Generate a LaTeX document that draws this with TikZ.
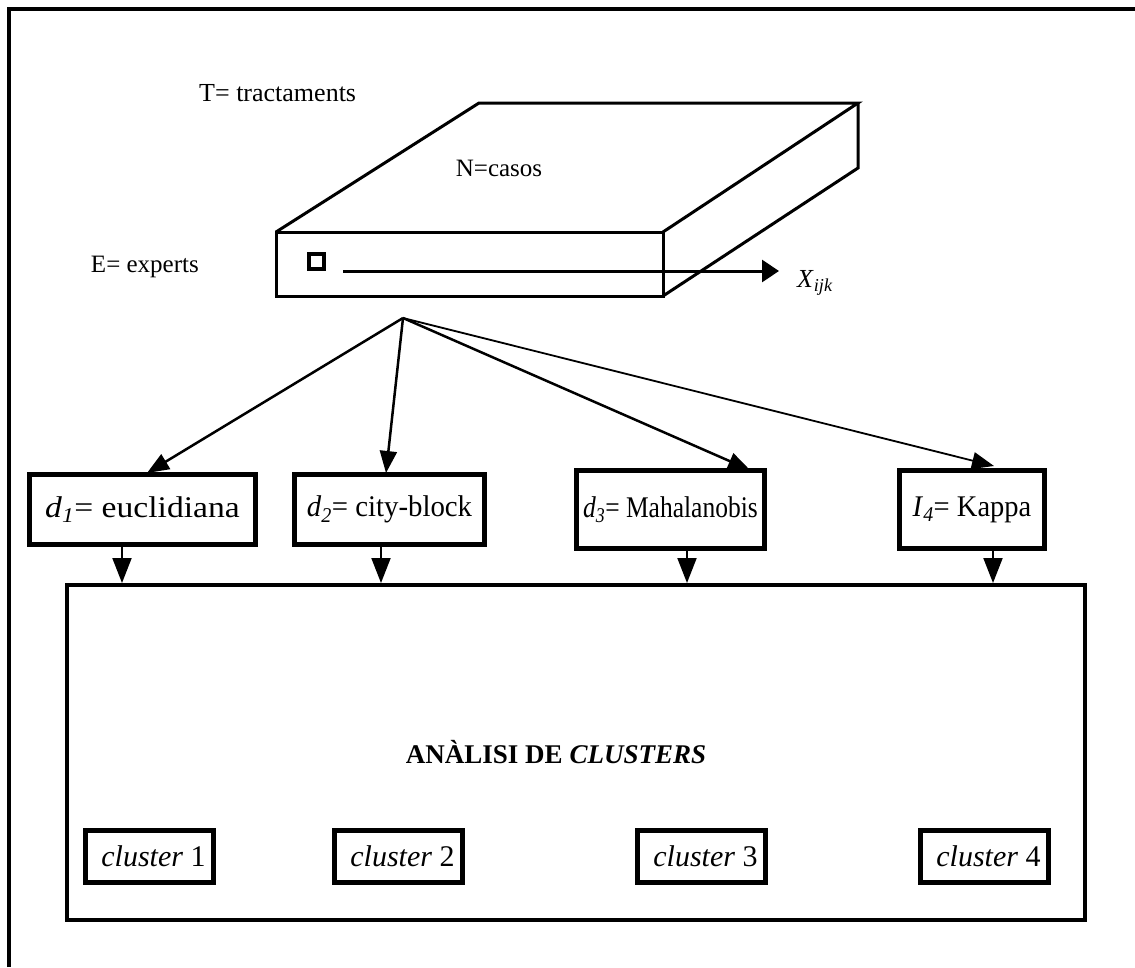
\documentclass[tikz,border=0pt]{standalone}
\usepackage{fontspec}
\setmainfont{Liberation Serif}
\usetikzlibrary{arrows.meta}
\begin{document}
\begin{tikzpicture}[x=1pt,y=-1pt,
  lbl/.style={inner sep=0pt,anchor=base west,font=\fontsize{25}{30}\selectfont},
  distbox/.style={draw,line width=5pt,inner sep=0pt,minimum height=70pt,font=\fontsize{30}{36}\selectfont},
  clubox/.style={draw,line width=5pt,inner sep=0pt,minimum width=128pt,minimum height=52pt,font=\fontsize{30}{36}\selectfont},
  slab/.style={line width=3pt,line join=miter},
  fanarrow/.style={line width=2.5pt,-{Triangle[length=22pt,width=17pt]}},
  downarrow/.style={line width=2pt,-{Triangle[length=25pt,width=19pt]}},
  xarrow/.style={line width=3pt,-{Triangle[length=17pt,width=22pt]}}]
\useasboundingbox (0,0) rectangle (1135,967);

% frame (top and left edges)
\draw[line width=4pt] (9,967) -- (9,9) -- (1135,9);

% data slab
\coordinate (fl) at (276,232);
\coordinate (fr) at (663,232);
\coordinate (br) at (663,296);
\coordinate (tl) at (479,103);
\coordinate (tr) at (858,103);
\coordinate (rb) at (858,168);
\draw[slab] (fl) rectangle (br);
\draw[slab] (fl) -- (tl) -- (tr) -- (fr);
\draw[slab] (tr) -- (rb) -- (br);

\node[lbl,font=\fontsize{26}{30}\selectfont] (tlab) at (199,101) {T= tractaments};
\node[lbl,anchor=base] (nlab) at (499,176) {N=casos};
\node[lbl,anchor=base east] (elab) at (199,272) {E= experts};

\node[draw,line width=4pt,minimum size=15pt,inner sep=0pt] (cell) at (316.5,261.5) {};
\coordinate (xs) at (343,271);
\coordinate (xe) at (779,271);
\draw[xarrow] (xs) -- (xe);
\node[lbl,font=\fontsize{26}{30}\selectfont] (xijk) at (797,287) {\textit{X}\textsubscript{\textit{ijk}}};

% distance measures
\node[distbox,minimum width=226pt] (d1) at (142.5,509.5)
  {\scalebox{1.12}[1]{\textit{d}\textsubscript{\textit{1}}= euclidiana}};
\node[distbox,minimum width=190pt] (d2) at (389.5,509.5)
  {\scalebox{0.96}[1]{\textit{d}\textsubscript{\textit{2}}= city-block}};
\node[distbox,minimum width=188pt,minimum height=78pt] (d3) at (670.5,509.5)
  {\scalebox{0.85}[1]{\textit{d}\textsubscript{\textit{3}}= Mahalanobis}};
\node[distbox,minimum width=145pt,minimum height=78pt] (d4) at (972,509.5)
  {\scalebox{0.95}[1]{\textit{I}\textsubscript{\textit{4}}= Kappa}};

\coordinate (fan) at (403,318);
\draw[fanarrow] (fan) -- ([xshift=4.5pt,yshift=-1pt]d1.north);
\draw[fanarrow] (fan) -- ([xshift=-3.5pt,yshift=-1pt]d2.north);
\draw[fanarrow] (fan) -- ([xshift=79.5pt,yshift=-2pt]d3.north);
\draw[fanarrow,line width=1.8pt] (fan) -- ([xshift=22pt,yshift=2pt]d4.north);

% cluster analysis
\node[draw,line width=4pt,minimum width=1018pt,minimum height=335pt,inner sep=0pt] (ca) at (576,752.5) {};
\node[inner sep=0pt,font=\fontsize{27}{32}\selectfont\bfseries] (catitle) at (556,752) {ANÀLISI DE \textit{CLUSTERS}};

\coordinate (v1) at (122,0);
\coordinate (v2) at (381,0);
\coordinate (v3) at (687,0);
\coordinate (v4) at (993,0);
\draw[downarrow] (d1.south -| v1) -- (v1 |- ca.north);
\draw[downarrow] (d2.south -| v2) -- (v2 |- ca.north);
\draw[downarrow] (d3.south -| v3) -- (v3 |- ca.north);
\draw[downarrow] (d4.south -| v4) -- (v4 |- ca.north);

\node[clubox] (c1) at (149.5,856.5) {\hspace{8pt}\textit{cluster} 1};
\node[clubox] (c2) at (398.5,856.5) {\hspace{8pt}\textit{cluster} 2};
\node[clubox] (c3) at (701.5,856.5) {\hspace{8pt}\textit{cluster} 3};
\node[clubox] (c4) at (984.5,856.5) {\hspace{8pt}\textit{cluster} 4};
\end{tikzpicture}
\end{document}
